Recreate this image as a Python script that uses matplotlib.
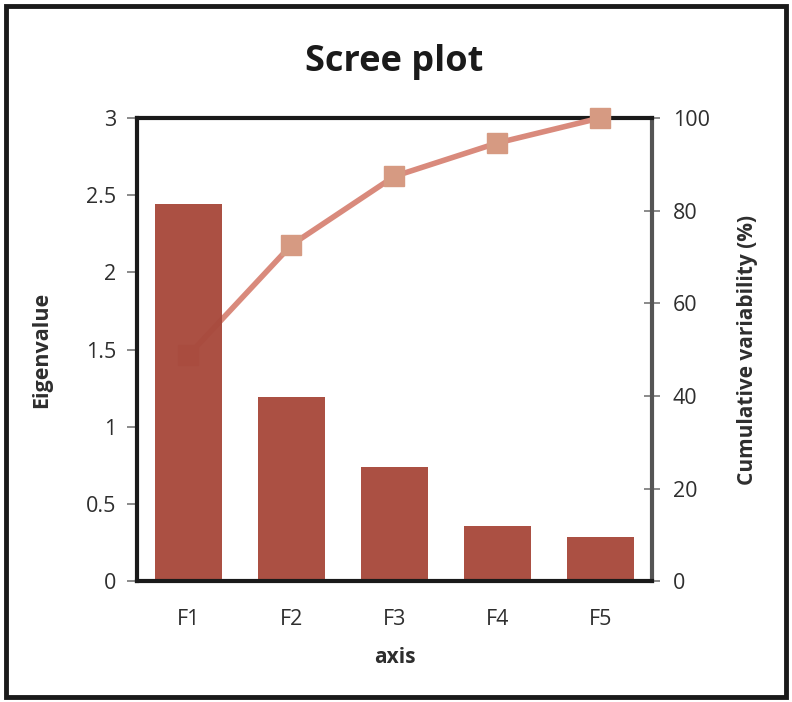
import numpy as np
import matplotlib
matplotlib.use("Agg")
import matplotlib.pyplot as plt
from matplotlib.patches import Rectangle

plt.rcParams["font.family"] = ["Open Sans", "DejaVu Sans"]

# eigenvalues of the five factors and their cumulative variability
factors = ["F1", "F2", "F3", "F4", "F5"]
eigenvalues = [2.44, 1.19, 0.74, 0.36, 0.285]
cumulative = [48.8, 72.6, 87.4, 94.6, 100.0]

left_ticks = [0, 0.5, 1, 1.5, 2, 2.5, 3]
left_labels = ["0", "0.5", "1", "1.5", "2", "2.5", "3"]
right_ticks = [0, 20, 40, 60, 80, 100]

bar_color = "#a84a3d"
line_color = "#d98a7c"
marker_color = "#d69a82"
text_color = "#2e2e2e"

fig = plt.figure(figsize=(7.92, 7.02), dpi=100)
ax = fig.add_axes([0.173, 0.172, 0.650, 0.660])
ax2 = ax.twinx()

# bars sit on top of the cumulative line
ax.set_zorder(ax2.get_zorder() + 1)
ax.patch.set_visible(False)

x = np.arange(len(factors))
ax.bar(x, eigenvalues, width=0.65, color=bar_color, alpha=0.97)
ax2.plot(x, cumulative, color=line_color, lw=4, marker="s", ms=15,
         mfc=marker_color, mec=marker_color, solid_capstyle="round",
         clip_on=False, zorder=5)

ax.set_xlim(-0.5, len(factors) - 0.5)
ax.set_ylim(0, 3)
ax2.set_ylim(0, 100)

ax.set_yticks(left_ticks)
ax.set_yticklabels(left_labels)
ax2.set_yticks(right_ticks)
ax.set_xticks(x)
ax.set_xticklabels(factors)

ax.tick_params(axis="y", direction="out", length=7, width=1.2,
               color="#777777", labelsize=15.5, labelcolor=text_color, pad=8)
ax2.tick_params(axis="y", direction="inout", length=12, width=1.2,
                color="#777777", labelsize=15.5, labelcolor=text_color, pad=9)
ax.tick_params(axis="x", length=0, labelsize=15.5, labelcolor=text_color,
               pad=20)

# left and bottom spines on the bar axes, top and right on the line axes
# so the last marker can overlap the top edge
for side in ["left", "bottom"]:
    ax.spines[side].set_linewidth(3)
    ax.spines[side].set_color("#1a1a1a")
ax.spines["right"].set_visible(False)
ax.spines["top"].set_visible(False)
for side in ["left", "bottom"]:
    ax2.spines[side].set_visible(False)
ax2.spines["top"].set_linewidth(3)
ax2.spines["top"].set_color("#1a1a1a")
ax2.spines["right"].set_linewidth(3)
ax2.spines["right"].set_color("#555555")

ax.set_ylabel("Eigenvalue", fontsize=15.5, fontweight="bold",
              color=text_color, labelpad=24)
ax2.set_ylabel("Cumulative variability (%)", fontsize=15, fontweight="bold",
               color=text_color, labelpad=20)
ax.set_xlabel("axis", fontsize=15, fontweight="bold", color=text_color,
              labelpad=12)
ax.set_title("Scree plot", fontsize=26, fontweight="bold", color="#1a1a1a",
             pad=34)

# outer frame around the whole chart
fig.patches.append(Rectangle((0.008, 0.007), 0.985, 0.985,
                             transform=fig.transFigure, fill=False,
                             lw=3.5, ec="#1a1a1a"))

fig.savefig("out.png", dpi=100)
